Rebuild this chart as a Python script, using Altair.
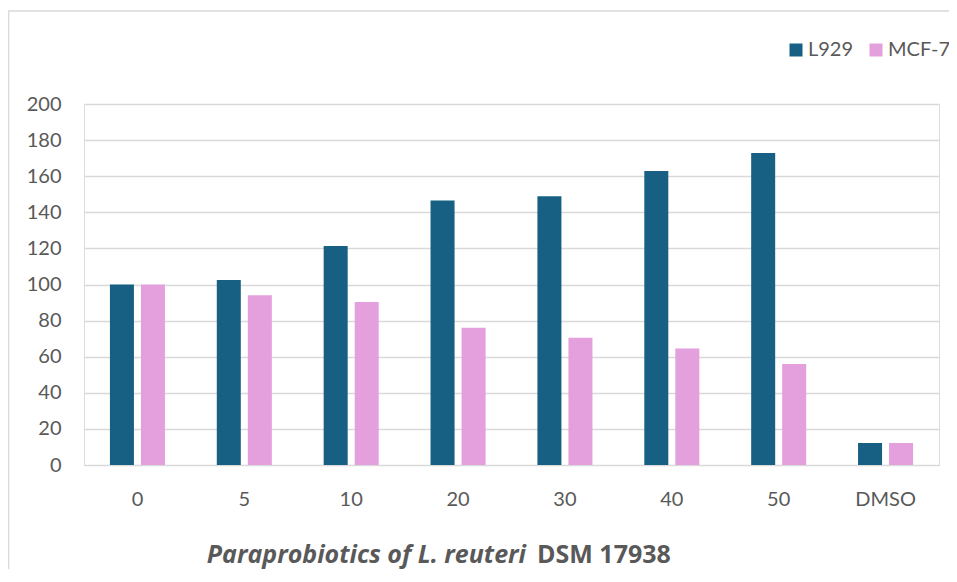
import altair as alt
import pandas as pd

categories = ["0", "5", "10", "20", "30", "40", "50", "DMSO"]
l929 = [100, 102.5, 121.3, 146.6, 148.9, 162.9, 172.8, 12.2]
mcf7 = [100, 94.0, 90.3, 76.0, 70.5, 64.5, 55.9, 12.2]
series = ["L929", "MCF-7"]
colors = ["#176083", "#E49FDD"]
y_ticks = [0, 20, 40, 60, 80, 100, 120, 140, 160, 180, 200]
title_italic = "Paraprobiotics of L. reuteri"
title_bold = "DSM 17938"

rows = []
for c, a, b in zip(categories, l929, mcf7):
    rows.append({"cat": c, "series": series[0], "value": a})
    rows.append({"cat": c, "series": series[1], "value": b})
df = pd.DataFrame(rows)

FONT = "Lato"
TFONT = "Open Sans"
GREY = "#595959"

bars = alt.Chart(df).mark_bar().encode(
    x=alt.X("cat:N", sort=categories, title=None,
            scale=alt.Scale(paddingInner=0.485, paddingOuter=0.2425),
            axis=alt.Axis(labelAngle=0, domain=False, ticks=False, labelPadding=24,
                          labelFontSize=20, labelFont=FONT, labelColor=GREY, grid=False)),
    xOffset=alt.XOffset("series:N", sort=series,
                        scale=alt.Scale(paddingInner=0.226, paddingOuter=0)),
    y=alt.Y("value:Q", title=None,
            scale=alt.Scale(domain=[0, 200], nice=False),
            axis=alt.Axis(values=y_ticks, domain=False, ticks=False, labelPadding=23,
                          labelFontSize=20, labelFont=FONT, labelColor=GREY,
                          gridColor="#d9d9d9", gridWidth=1.3)),
    color=alt.Color("series:N", sort=series,
                    scale=alt.Scale(domain=series, range=colors),
                    legend=alt.Legend(title=None, orient="none", direction="horizontal",
                                      legendX=702, legendY=-64, symbolType="square",
                                      symbolSize=169, symbolStrokeWidth=0,
                                      labelFontSize=20, labelFont=FONT, labelColor=GREY,
                                      labelOffset=2, columnPadding=12, padding=0)),
)

t1 = alt.Chart(pd.DataFrame({"t": [title_italic]})).mark_text(
    font=TFONT, fontSize=25, fontWeight="bold", fontStyle="italic", color=GREY,
    align="right", baseline="alphabetic").encode(
    text="t:N", x=alt.value(442), y=alt.value(459))
t2 = alt.Chart(pd.DataFrame({"t": [title_bold]})).mark_text(
    font=TFONT, fontSize=25, fontWeight="bold", color=GREY,
    align="left", baseline="alphabetic").encode(
    text="t:N", x=alt.value(453), y=alt.value(459))

frame = alt.Chart(pd.DataFrame({"a": [0]})).mark_rect(
    fillOpacity=0, stroke="#d9d9d9", strokeWidth=1.3).encode(
    x=alt.value(-75.3), x2=alt.value(1100), y=alt.value(-93), y2=alt.value(800))

chart = alt.layer(frame, bars, t1, t2).properties(
    width=855, height=361,
    autosize=alt.AutoSizeParams(type="none"),
    padding={"left": 76, "top": 96, "right": 10, "bottom": 104},
).configure_view(stroke=None).configure(background="white")

chart.save("out.html", embed_options={"renderer": "svg", "actions": False})
